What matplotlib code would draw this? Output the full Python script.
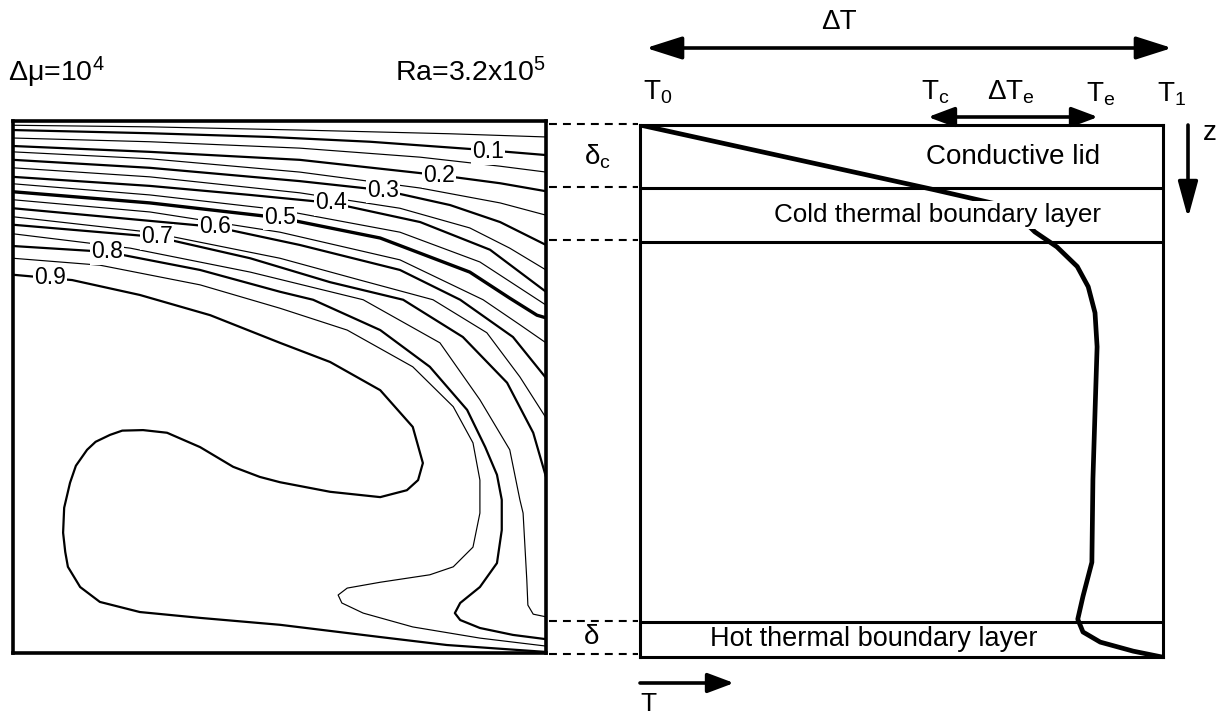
import matplotlib
matplotlib.use('Agg')
import matplotlib.pyplot as plt

plt.rcParams['font.family'] = ['Liberation Sans', 'DejaVu Sans']
plt.rcParams['mathtext.fontset'] = 'custom'
plt.rcParams['mathtext.rm'] = 'Liberation Sans'
plt.rcParams['mathtext.it'] = 'Liberation Sans'
plt.rcParams['mathtext.bf'] = 'Liberation Sans:bold'
plt.rcParams['mathtext.default'] = 'regular'

# ---------------- data: isotherms of the left panel (x, z in box units) ----------------
t005_x = [0, .257, .538, .820, 1.0]
t005_z = [.008, .011, .017, .024, .030]
t010_x = [0, .257, .482, .670, .891, 1.0]
t010_z = [.017, .023, .030, .039, .055, .064]
t015_x = [0, .257, .538, .764, .914, 1.0]
t015_z = [.032, .039, .051, .068, .085, .096]
t020_x = [0, .257, .538, .801, .914, 1.0]
t020_z = [.047, .058, .073, .102, .117, .132]
t025_x = [0, .257, .538, .764, .914, 1.0]
t025_z = [.058, .071, .096, .126, .154, .177]
t030_x = [0, .257, .538, .694, .820, .914, 1.0]
t030_z = [.073, .088, .113, .130, .158, .190, .233]
t035_x = [0, .257, .538, .726, .857, .932, 1.0]
t035_z = [.088, .105, .135, .164, .201, .239, .280]
t040_x = [0, .257, .445, .598, .764, .895, 1.0]
t040_z = [.105, .122, .139, .154, .190, .242, .321]
t045_x = [0, .257, .501, .726, .876, 1.0]
t045_z = [.118, .139, .167, .209, .265, .346]
t050_x = [0, .257, .501, .689, .857, .932, .983, 1.0]
t050_z = [.133, .154, .182, .220, .284, .333, .365, .370]
t055_x = [0, .257, .501, .726, .882, .951, 1.0]
t055_z = [.148, .171, .209, .261, .336, .383, .417]
t060_x = [0, .379, .538, .726, .839, .938, 1.0]
t060_z = [.164, .199, .233, .280, .336, .406, .483]
t065_x = [0, .257, .501, .651, .788, .889, .951, 1.0]
t065_z = [.180, .209, .258, .299, .336, .398, .481, .558]
t070_x = [0, .270, .445, .595, .732, .844, .927, .976, 1.0]
t070_z = [.195, .218, .258, .303, .336, .406, .492, .586, .669]
t075_x = [0, .220, .445, .657, .801, .876, .932, .951, .957, .964, .966, .976, 1.0]
t075_z = [.212, .239, .284, .336, .417, .524, .618, .712, .737, .863, .910, .927, .932]
t080_x = [0, .176, .351, .501, .563, .689, .782, .852, .886, .908, .917, .917, .908,
          .876, .839, .829, .839, .876, .938, 1.0]
t080_z = [.235, .246, .280, .321, .336, .393, .462, .543, .613, .665, .712, .769, .831,
          .876, .906, .925, .938, .953, .966, .974]
t085_x = [0, .163, .351, .501, .627, .750, .826, .863, .876, .876, .863, .826, .782,
          .689, .627, .610, .617, .657, .750, .876, 1.0]
t085_z = [.258, .271, .308, .352, .393, .462, .537, .605, .675, .737, .801, .838, .853,
          .867, .878, .891, .906, .925, .951, .972, .987]
t090_x = [0, .111, .238, .370, .501, .595, .689, .750, .769, .760, .739, .689, .595, .501,
          .463, .413, .351, .289, .244, .205, .182, .155, .139, .118, .107, .096, .094,
          .098, .103, .126, .163, .238, .351, .501, .689, .814, 1.0]
t090_z = [.289, .299, .327, .365, .417, .453, .506, .575, .643, .675, .694, .707, .697, .679,
          .669, .650, .613, .586, .581, .582, .590, .603, .618, .648, .680, .727, .774,
          .810, .838, .876, .904, .923, .934, .947, .970, .985, .998]

iso_levels = [0.05, 0.1, 0.15, 0.2, 0.25, 0.3, 0.35, 0.4, 0.45, 0.5,
              0.55, 0.6, 0.65, 0.7, 0.75, 0.8, 0.85, 0.9]
iso_x = [t005_x, t010_x, t015_x, t020_x, t025_x, t030_x, t035_x, t040_x, t045_x,
         t050_x, t055_x, t060_x, t065_x, t070_x, t075_x, t080_x, t085_x, t090_x]
iso_z = [t005_z, t010_z, t015_z, t020_z, t025_z, t030_z, t035_z, t040_z, t045_z,
         t050_z, t055_z, t060_z, t065_z, t070_z, t075_z, t080_z, t085_z, t090_z]

label_text = ['0.1', '0.2', '0.3', '0.4', '0.5', '0.6', '0.7', '0.8', '0.9']
label_x = [.891, .799, .694, .597, .501, .379, .270, .176, .069]
label_z = [.058, .102, .130, .154, .182, .199, .218, .246, .295]

# ---------------- data: schematic temperature profile (right panel) ----------------
profile_T = [0.0, .564, .688, .727, .755, .797, .836, .857, .870, .874, .870, .866,
             .864, .847, .837, .847, .880, .943, .998]
profile_z = [0.0, .122, .150, .174, .201, .229, .266, .304, .353, .417, .540, .666,
             .822, .886, .929, .953, .972, .989, 1.0]
layer_z = [0.119, 0.220, 0.934]          # base of lid, base of cold TBL, top of hot TBL
layer_names = ['Conductive lid', 'Cold thermal boundary layer', 'Hot thermal boundary layer']

# ---------------- figure ----------------
W, H = 1220, 715
fig = plt.figure(figsize=(W / 100, H / 100), dpi=100)


def rect(l, t, r, b):
    return [l / W, 1 - b / H, (r - l) / W, (b - t) / H]


axL = fig.add_axes(rect(13, 121, 546, 653))
axL.set_xlim(0, 1)
axL.set_ylim(1, 0)
for lvl, xs, zs in zip(iso_levels, iso_x, iso_z):
    k = round(lvl * 100)
    if k == 50:
        lw = 2.4
    elif k % 10 == 0:
        lw = 1.6
    else:
        lw = 0.85
    axL.plot(xs, zs, color='black', lw=lw, solid_joinstyle='round',
             solid_capstyle='butt')
for s, x, z in zip(label_text, label_x, label_z):
    axL.text(x, z, s, ha='center', va='center', fontsize=16.5,
             bbox=dict(facecolor='white', edgecolor='none', pad=0.8), zorder=5)
axL.set_xticks([])
axL.set_yticks([])
for sp in axL.spines.values():
    sp.set_linewidth(2.6)

axR = fig.add_axes(rect(640, 125, 1163, 657))
axR.set_xlim(0, 1)
axR.set_ylim(1, 0)
for zl in layer_z:
    axR.axhline(zl, color='black', lw=2.2)
axR.plot(profile_T, profile_z, color='black', lw=3.4, solid_joinstyle='round',
         solid_capstyle='butt', zorder=3)
axR.set_xticks([])
axR.set_yticks([])
for sp in axR.spines.values():
    sp.set_linewidth(2.2)

# ---------------- overlay for annotations (pixel units) ----------------
ov = fig.add_axes([0, 0, 1, 1], zorder=10)
ov.set_xlim(0, W)
ov.set_ylim(H, 0)
ov.axis('off')
ov.patch.set_visible(False)

fs = 20
ov.text(8, 72, 'Δμ=10$^{4}$', ha='left', va='center', fontsize=20.5)
ov.text(395, 73, 'Ra=3.2x10$^{5}$', ha='left', va='center', fontsize=20.5)

# dashed connectors
for y in [124, 187, 240, 621, 654]:
    ov.plot([549, 638], [y, y], color='black', lw=1.5, ls=(0, (3.8, 2.9)))

ov.text(598, 157, 'δ$_c$', ha='center', va='center', fontsize=fs)
ov.text(592, 637, 'δ', ha='center', va='center', fontsize=fs)

# layer labels
ov.text(1013, 157, layer_names[0], ha='center', va='center', fontsize=20)
ov.text(938, 215, layer_names[1], ha='center', va='center', fontsize=18.7,
        bbox=dict(facecolor='white', edgecolor='none', pad=1.5))
ov.text(874, 639, layer_names[2], ha='center', va='center', fontsize=19.5)

# temperature labels
ov.text(839, 22, 'ΔT', ha='center', va='center', fontsize=fs)
ov.text(643, 92, 'T$_0$', ha='left', va='center', fontsize=fs)
ov.text(921, 92, 'T$_c$', ha='left', va='center', fontsize=fs)
ov.text(987, 92, 'ΔT$_e$', ha='left', va='center', fontsize=fs)
ov.text(1086, 94, 'T$_e$', ha='left', va='center', fontsize=fs)
ov.text(1157, 94, 'T$_1$', ha='left', va='center', fontsize=fs)
ov.text(1210, 133, 'z', ha='center', va='center', fontsize=fs)
ov.text(648, 704, 'T', ha='center', va='center', fontsize=19)

arr = dict(color='black', lw=2.6, shrinkA=0, shrinkB=0, mutation_scale=20)
ov.annotate('', xy=(1172, 48), xytext=(646, 48),
            arrowprops=dict(arrowstyle='<|-|>,head_length=1.1,head_width=0.35', **arr))
ov.annotate('', xy=(1098, 117), xytext=(928, 117),
            arrowprops=dict(arrowstyle='<|-|>,head_length=0.8,head_width=0.3', **arr))
ov.annotate('', xy=(1188, 218), xytext=(1188, 125),
            arrowprops=dict(arrowstyle='-|>,head_length=1.1,head_width=0.3', **arr))
ov.annotate('', xy=(734, 683), xytext=(640, 683),
            arrowprops=dict(arrowstyle='-|>,head_length=0.8,head_width=0.3', **arr))

fig.savefig('out.png', dpi=100)
